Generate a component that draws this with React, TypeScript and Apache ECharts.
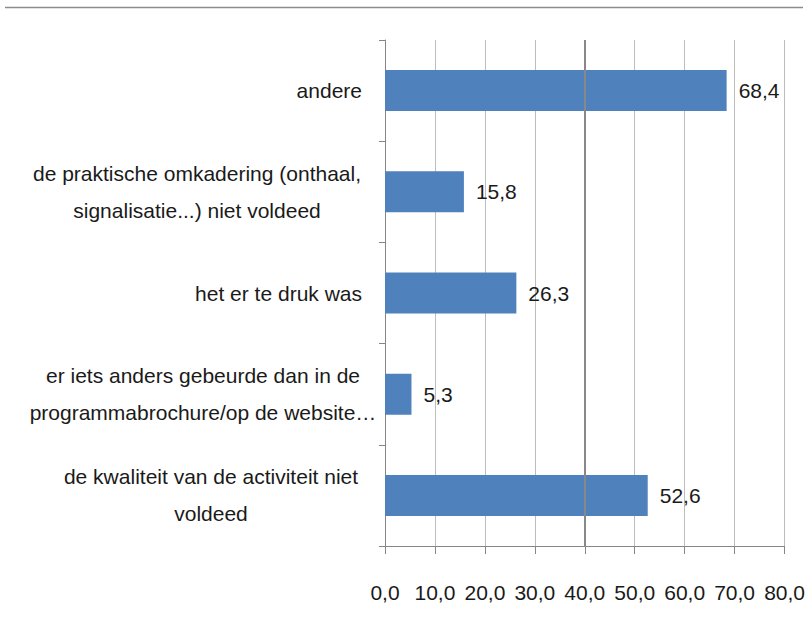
import React, { useEffect, useRef } from "react";
import * as echarts from "echarts";

const categories = [
  "de kwaliteit van de activiteit niet\nvoldeed",
  "er iets anders gebeurde dan in de\nprogrammabrochure/op de website…",
  "het er te druk was",
  "de praktische omkadering (onthaal,\nsignalisatie...) niet voldeed",
  "andere",
];
const values = [52.6, 5.3, 26.3, 15.8, 68.4];
const labelWidths = [302, 318, 0, 330, 0];

const FONT = "'Liberation Sans', Arial, sans-serif";
const FS = 21;
const fmt = (v: number) => v.toFixed(1).replace(".", ",");

export default function App() {
  const ref = useRef<HTMLDivElement>(null);
  useEffect(() => {
    const chart = echarts.init(ref.current!, null, { renderer: "svg" });
    const rich: Record<string, any> = {};
    labelWidths.forEach((w, i) => {
      if (w > 0) {
        rich["l" + i] = {
          width: w,
          align: "center",
          fontFamily: FONT,
          fontSize: FS,
          color: "#1a1a1a",
          lineHeight: 37,
        };
      }
    });
    chart.setOption({
      animation: false,
      backgroundColor: "#ffffff",
      graphic: [
        {
          type: "line",
          shape: { x1: 5, y1: 7.5, x2: 803, y2: 7.5 },
          style: { stroke: "#8c8c8c", lineWidth: 1.5 },
        },
      ],
      grid: { left: 385, right: 23, top: 40, bottom: 91 },
      xAxis: {
        type: "value",
        min: 0,
        max: 80,
        interval: 10,
        axisLine: { show: true, lineStyle: { color: "#868686", width: 1 } },
        axisTick: { show: true, length: 8, lineStyle: { color: "#868686" } },
        splitLine: { show: true, lineStyle: { color: "#bdbdbd", width: 1 } },
        axisLabel: {
          formatter: (v: number) => fmt(v),
          fontFamily: FONT,
          fontSize: FS,
          color: "#1a1a1a",
          margin: 36,
        },
      },
      yAxis: {
        type: "category",
        data: categories,
        axisLine: { show: true, lineStyle: { color: "#868686", width: 1 } },
        axisTick: { show: true, length: 6, lineStyle: { color: "#868686" } },
        axisLabel: {
          fontFamily: FONT,
          fontSize: FS,
          color: "#1a1a1a",
          margin: 23,
          lineHeight: 37,
          formatter: (v: string) => {
            const i = categories.indexOf(v);
            if (labelWidths[i] > 0) {
              return v
                .split("\n")
                .map((line) => `{l${i}|${line}}`)
                .join("\n");
            }
            return v;
          },
          rich,
        },
      },
      series: [
        {
          type: "bar",
          data: values,
          barWidth: 41,
          itemStyle: { color: "#4f81bd" },
          label: {
            show: true,
            position: "right",
            distance: 12,
            formatter: (p: any) => fmt(p.value),
            fontFamily: FONT,
            fontSize: FS,
            color: "#1a1a1a",
          },
          markLine: {
            silent: true,
            symbol: "none",
            label: { show: false },
            lineStyle: { color: "#888888", width: 2, type: "solid" },
            data: [{ xAxis: 40 }],
          },
        },
      ],
    });
    return () => chart.dispose();
  }, []);
  return (
    <div
      ref={ref}
      style={{ position: "fixed", left: 0, top: 0, width: 808, height: 637 }}
    />
  );
}
